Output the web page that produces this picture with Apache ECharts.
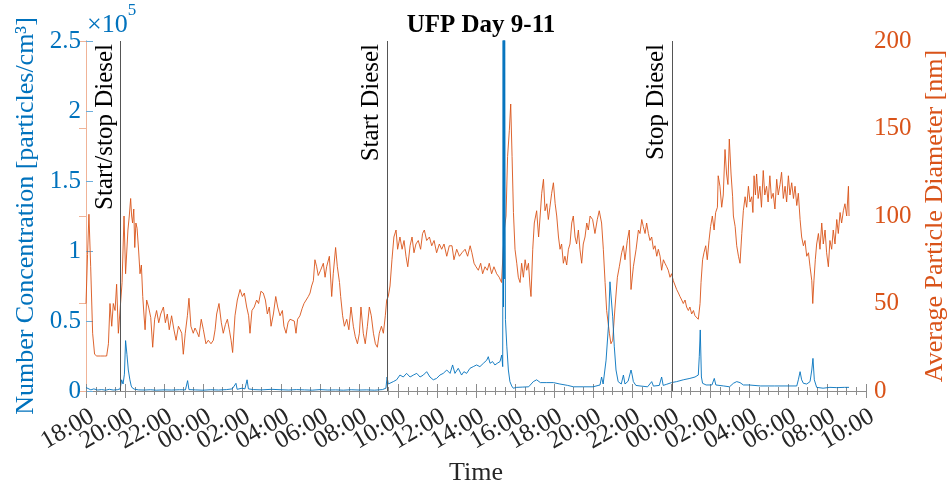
<!DOCTYPE html>
<html>
<head>
<meta charset="utf-8">
<script src="https://cdn.jsdelivr.net/npm/echarts@6/dist/echarts.min.js"></script>
<style>
  html, body { margin: 0; padding: 0; background: #fff; }
  #chart { width: 948px; height: 485px; }
</style>
</head>
<body>
<div id="chart"></div>
<script>
// Time axis: hours elapsed since 18:00 on day 9
const TIME_MIN = 0;
const TIME_MAX = 40;
const TIME_STEP = 2;
const timeTickLabels = [
  '18:00', '20:00', '22:00', '00:00', '02:00', '04:00', '06:00', '08:00', '10:00', '12:00', '14:00',
  '16:00', '18:00', '20:00', '22:00', '00:00', '02:00', '04:00', '06:00', '08:00', '10:00'
];

// Average particle diameter [nm]
const diamHours = [
  0.00, 0.08, 0.15, 0.24, 0.34, 0.44, 0.55, 0.75, 0.95, 1.06, 1.15, 1.23, 1.32, 1.40, 1.49, 1.57, 1.66, 1.74,
  1.85, 1.95, 2.03, 2.15, 2.22, 2.29, 2.34, 2.39, 2.45, 2.50, 2.56, 2.62, 2.70, 2.77, 2.84, 2.91, 2.97, 3.03,
  3.11, 3.21, 3.32, 3.42, 3.52, 3.62, 3.73, 3.83, 3.97, 4.07, 4.17, 4.27, 4.39, 4.51, 4.62, 4.74, 4.83, 4.91,
  4.99, 5.09, 5.20, 5.28, 5.38, 5.50, 5.59, 5.68, 5.79, 5.91, 6.02, 6.15, 6.27, 6.41, 6.53, 6.62, 6.70, 6.82,
  6.94, 7.04, 7.15, 7.25, 7.35, 7.44, 7.52, 7.64, 7.76, 7.90, 8.02, 8.12, 8.24, 8.34, 8.41, 8.51, 8.63, 8.75,
  8.85, 8.97, 9.09, 9.20, 9.30, 9.40, 9.49, 9.61, 9.73, 9.83, 9.95, 10.07, 10.15, 10.26, 10.36, 10.46, 10.56,
  10.68, 10.77, 10.85, 10.97, 11.08, 11.18, 11.28, 11.40, 11.49, 11.57, 11.66, 11.74, 11.83, 11.91, 12.03,
  12.17, 12.26, 12.34, 12.48, 12.60, 12.68, 12.80, 12.89, 13.00, 13.06, 13.16, 13.25, 13.37, 13.48, 13.59,
  13.71, 13.81, 13.92, 14.02, 14.10, 14.22, 14.32, 14.43, 14.53, 14.63, 14.74, 14.84, 14.94, 15.04, 15.15,
  15.25, 15.35, 15.42, 15.50, 15.59, 15.69, 15.79, 15.90, 15.98, 16.10, 16.21, 16.31, 16.41, 16.50, 16.62,
  16.72, 16.82, 16.92, 17.04, 17.16, 17.26, 17.35, 17.47, 17.61, 17.73, 17.85, 17.98, 18.12, 18.24, 18.36,
  18.50, 18.63, 18.77, 18.87, 19.01, 19.15, 19.28, 19.44, 19.57, 19.70, 19.79, 19.90, 20.00, 20.12, 20.24,
  20.34, 20.46, 20.58, 20.68, 20.80, 20.92, 21.06, 21.19, 21.31, 21.40, 21.45, 21.54, 21.62, 21.71, 21.78,
  21.85, 21.92, 22.00, 22.09, 22.17, 22.26, 22.34, 22.43, 22.52, 22.60, 22.69, 22.77, 22.82, 22.91, 22.99,
  23.11, 23.21, 23.29, 23.37, 23.46, 23.54, 23.63, 23.71, 23.79, 23.88, 23.97, 24.06, 24.14, 24.23, 24.31,
  24.39, 24.48, 24.56, 24.65, 24.74, 24.82, 24.91, 24.99, 25.08, 25.16, 25.25, 25.33, 25.42, 25.50, 25.59,
  25.68, 25.76, 25.85, 25.98, 26.10, 26.22, 26.32, 26.44, 26.53, 26.62, 26.70, 26.84, 26.92, 27.01, 27.13,
  27.25, 27.35, 27.47, 27.56, 27.64, 27.76, 27.86, 27.95, 28.07, 28.21, 28.33, 28.41, 28.50, 28.58, 28.67,
  28.75, 28.84, 28.92, 29.01, 29.10, 29.18, 29.27, 29.35, 29.44, 29.52, 29.61, 29.69, 29.78, 29.86, 29.95,
  30.03, 30.12, 30.21, 30.29, 30.38, 30.46, 30.55, 30.63, 30.72, 30.80, 30.89, 30.97, 31.06, 31.15, 31.23,
  31.32, 31.40, 31.49, 31.54, 31.62, 31.69, 31.78, 31.86, 31.95, 32.03, 32.12, 32.21, 32.29, 32.38, 32.42,
  32.51, 32.60, 32.68, 32.77, 32.85, 32.92, 32.99, 33.08, 33.16, 33.20, 33.29, 33.37, 33.46, 33.54, 33.63,
  33.71, 33.80, 33.88, 33.97, 34.05, 34.14, 34.20, 34.26, 34.33, 34.39, 34.47, 34.56, 34.64, 34.73, 34.81,
  34.90, 34.98, 35.07, 35.15, 35.24, 35.33, 35.42, 35.50, 35.59, 35.67, 35.76, 35.85, 35.93, 36.02, 36.10,
  36.19, 36.28, 36.36, 36.45, 36.53, 36.62, 36.70, 36.79, 36.87, 36.96, 37.05, 37.13, 37.22, 37.27, 37.33,
  37.40, 37.47, 37.56, 37.64, 37.73, 37.81, 37.90, 37.98, 38.07, 38.15, 38.24, 38.32, 38.41, 38.50, 38.58,
  38.67, 38.75, 38.84, 38.92, 39.01, 39.10, 39.13
];
const diamNm = [
  50, 78, 101, 71, 33, 21, 20, 20, 20, 20, 27, 50, 37, 50, 46, 61, 33, 34,
  62, 100, 67, 92, 100, 110, 100, 96, 104, 82, 96, 93, 80, 67, 72, 54, 44, 35,
  52, 48, 42, 25, 41, 46, 39, 44, 48, 39, 44, 35, 43, 35, 29, 37, 35, 33,
  21, 33, 43, 53, 37, 33, 36, 34, 31, 41, 35, 27, 29, 27, 29, 35, 44, 50,
  39, 33, 38, 41, 35, 29, 22, 43, 52, 58, 54, 56, 48, 43, 33, 46, 48, 52,
  50, 57, 56, 52, 44, 48, 37, 44, 54, 48, 43, 46, 37, 33, 39, 41, 42,
  40, 33, 41, 43, 47, 50, 51, 54, 56, 60, 63, 75, 71, 66, 69,
  73, 65, 71, 77, 54, 67, 82, 71, 62, 54, 43, 37, 41, 35, 48,
  37, 31, 27, 33, 48, 33, 27, 37, 48, 43, 33, 27, 25, 33, 37,
  33, 43, 52, 54, 60, 75, 88, 92, 81, 88, 81, 86, 77, 71, 83,
  88, 79, 84, 86, 81, 90, 92, 86, 88, 83, 86, 79, 84, 81, 84,
  77, 83, 83, 75, 81, 77, 79, 81, 77, 83, 79, 73, 71, 69, 73,
  67, 71, 69, 73, 67, 71, 67, 65, 62, 63, 92, 100, 134, 149, 164,
  134, 102, 81, 73, 65, 62, 73, 65, 75, 69, 73, 60, 54, 81, 96,
  103, 88, 100, 113, 121, 103, 107, 98, 105, 113, 119, 107, 100, 88, 81,
  84, 73, 77, 72, 81, 84, 96, 100, 88, 84, 92, 81, 73, 84, 88,
  96, 92, 100, 98, 90, 98, 103, 96, 81, 62, 46, 33, 27, 29, 48,
  65, 71, 79, 83, 75, 86, 92, 58, 71, 81, 92, 90, 98, 94, 90,
  96, 90, 86, 88, 81, 83, 77, 81, 77, 69, 75, 73, 71, 69, 65,
  67, 63, 62, 58, 56, 54, 52, 50, 52, 48, 46, 48, 44, 46, 43,
  43, 41, 50, 62, 75, 79, 83, 75, 86, 94, 100, 92, 102, 105, 123,
  117, 105, 112, 138, 124, 118, 144, 124, 111, 100, 94, 83, 77, 73, 90,
  103, 111, 105, 117, 108, 111, 102, 123, 112, 124, 110, 117, 105, 126, 112,
  117, 108, 123, 110, 113, 104, 121, 112, 118, 125, 110, 117, 108, 123, 112,
  119, 110, 117, 106, 113, 98, 88, 83, 86, 77, 79, 71, 63, 50, 63,
  75, 84, 90, 81, 96, 84, 92, 79, 71, 86, 81, 92, 84, 98, 90,
  102, 96, 103, 107, 100, 117, 100
];

// Number concentration [particles/cm^3]
const ufpHours = [
  0.00, 0.10, 0.25, 0.40, 0.60, 0.80, 1.00, 1.20, 1.40, 1.60, 1.75, 1.83, 1.90, 1.97, 2.03, 2.10, 2.17, 2.25,
  2.32, 2.39, 2.50, 2.70, 3.00, 3.30, 3.60, 4.00, 4.40, 4.80, 5.10, 5.21, 5.28, 5.60, 6.00, 6.40, 6.80, 7.20,
  7.50, 7.69, 7.75, 8.00, 8.15, 8.26, 8.33, 8.60, 9.00, 9.50, 10.00, 10.40, 10.80, 11.20, 11.60, 12.00, 12.40,
  12.80, 13.20, 13.60, 14.00, 14.40, 14.80, 15.20, 15.38, 15.44, 15.50, 15.56, 15.76, 15.93, 16.10, 16.27,
  16.44, 16.62, 16.79, 16.96, 17.13, 17.30, 17.47, 17.64, 17.81, 17.98, 18.15, 18.32, 18.50, 18.67, 18.80,
  18.92, 19.09, 19.26, 19.38, 19.52, 19.69, 19.86, 20.03, 20.20, 20.38, 20.55, 20.63, 20.72, 20.85, 20.97,
  21.09, 21.23, 21.32, 21.37, 21.39, 21.41, 21.43, 21.45, 21.47, 21.49, 21.51, 21.58, 21.66, 21.74, 21.83,
  21.91, 22.09, 22.40, 22.70, 22.94, 23.11, 23.30, 23.60, 23.97, 24.30, 24.70, 25.00, 25.50, 26.00, 26.36,
  26.44, 26.52, 26.67, 26.79, 26.87, 27.01, 27.09, 27.18, 27.29, 27.45, 27.56, 27.64, 27.80, 27.95, 28.00,
  28.07, 28.20, 28.41, 28.80, 29.01, 29.10, 29.40, 29.52, 29.60, 29.78, 30.03, 30.29, 30.63, 30.97, 31.23,
  31.40, 31.45, 31.50, 31.56, 31.62, 31.80, 32.10, 32.22, 32.30, 32.70, 33.00, 33.20, 33.37, 33.54, 33.71,
  34.00, 34.60, 35.30, 36.00, 36.45, 36.53, 36.62, 36.70, 36.79, 36.96, 37.13, 37.22, 37.28, 37.35, 37.47,
  37.80, 38.15, 38.50, 38.90, 39.13
];
const ufpCount = [
  2500, 1200, 800, 1500, 700, 1000, 600, 1200, 700, 900, 1500, 8000, 5000, 12000, 36000, 26000, 15000, 8000,
  3500, 2000, 1200, 800, 700, 900, 600, 800, 700, 900, 800, 7400, 1000, 800, 600, 900, 700, 1000,
  1500, 5500, 1200, 2000, 1500, 8000, 1500, 1000, 800, 1200, 900, 700, 1000, 800, 600, 1000, 700,
  800, 600, 900, 700, 800, 600, 1000, 2000, 10000, 5000, 4000, 6700, 8000, 11400, 10000,
  12600, 10000, 11400, 12600, 10000, 11400, 13800, 10000, 8000, 9000, 11400, 12600, 15000, 12600, 18600,
  12600, 16200, 11400, 13800, 12600, 16200, 17400, 18600, 17400, 19800, 22000, 24500, 19800, 21000, 18600,
  19800, 21000, 25700, 17400, 300000, 60000, 300000, 80000, 300000, 150000, 51000, 32000, 15000, 6700, 3600,
  2000, 2600, 2800, 3000, 6700, 8000, 6000, 6000, 6000, 5000, 4000, 3000, 3000, 3000, 4300,
  10000, 5000, 22000, 46000, 78000, 53000, 32000, 15000, 6700, 5000, 11400, 5000, 7000, 15000, 12000,
  6700, 4000, 3600, 3000, 6700, 3500, 4000, 10000, 4000, 4800, 6000, 6700, 8000, 9000, 10000,
  11400, 24500, 43600, 10000, 5500, 4300, 4300, 9000, 4300, 3600, 3000, 5500, 6700, 6000, 4300,
  4300, 3600, 3600, 3600, 3600, 8000, 13800, 8000, 5500, 5000, 6700, 15000, 23300, 8000, 2600,
  2000, 2600, 2400, 2600, 2600
];

// Engine events marked on the time axis
const eventHours = [1.78, 15.44, 30.04];
const eventLabels = ['Start/stop Diesel', 'Start Diesel', 'Stop Diesel'];

// Axis ranges and ticks
const ufpMax = 250000, ufpStep = 50000;
const diamMax = 200, diamStep = 50;

const BLUE = '#0072BD';
const ORANGE = '#D95319';
const FONT = 'Liberation Serif';
const TICK_FONT = 25;
const LABEL_FONT = 26;

const zip = (xs, ys) => xs.map((x, i) => [x, ys[i]]);

const chart = echarts.init(document.getElementById('chart'), null, { renderer: 'canvas' });

// Numeric time axes (bottom carries the data, top mirrors the ticks)
const xCommon = {
  type: 'value',
  min: TIME_MIN,
  max: TIME_MAX,
  interval: TIME_STEP,
  splitLine: { show: false },
  axisLabel: { show: false },
  axisLine: { show: true, lineStyle: { color: '#8c8c8c', width: 1 } },
  axisTick: { show: true, inside: true, length: 7, lineStyle: { color: '#8c8c8c' } },
  minorTick: { show: true, splitNumber: 4, length: 4, lineStyle: { color: '#8c8c8c' } },
};

chart.setOption({
  animation: false,
  backgroundColor: '#ffffff',
  textStyle: { fontFamily: FONT },
  title: {
    text: 'UFP Day 9-11',
    left: 476,
    textAlign: 'center',
    top: 8,
    textStyle: { fontFamily: FONT, fontSize: 25, fontWeight: 'bold', color: '#000' }
  },
  grid: {
    left: 86, right: 82, top: 41, bottom: 94,
    containLabel: false,
    outerBoundsMode: 'none'
  },
  xAxis: [
    Object.assign({}, xCommon, { position: 'bottom' }),
    Object.assign({}, xCommon, { position: 'top' }),
    {
      // clock-time labels, one per major tick
      type: 'category',
      position: 'bottom',
      data: timeTickLabels,
      boundaryGap: false,
      axisLine: { show: false },
      axisTick: { show: false },
      splitLine: { show: false },
      axisLabel: {
        show: true, interval: 0, rotate: 30, margin: 13,
        align: 'right', verticalAlign: 'top',
        fontFamily: FONT, fontSize: TICK_FONT, color: '#262626'
      },
      name: 'Time',
      nameLocation: 'middle',
      nameGap: 66,
      nameTextStyle: { fontFamily: FONT, fontSize: LABEL_FONT, color: '#262626' }
    }
  ],
  yAxis: [
    {
      type: 'value', position: 'left',
      min: 0, max: ufpMax, interval: ufpStep,
      splitLine: { show: false },
      axisLine: { show: true, lineStyle: { color: '#6aaddc', width: 1 } },
      axisTick: { show: true, inside: true, length: 7, lineStyle: { color: '#6aaddc' } },
      axisLabel: {
        margin: 5, fontFamily: FONT, fontSize: TICK_FONT, color: BLUE,
        showMinLabel: true, showMaxLabel: true,
        formatter: v => String(v / 100000)
      },
      name: 'Number Concentration [particles/cm³]',
      nameLocation: 'middle',
      nameGap: 44,
      nameRotate: 90,
      nameTextStyle: { fontFamily: FONT, fontSize: LABEL_FONT, color: BLUE }
    },
    {
      type: 'value', position: 'right',
      min: 0, max: diamMax, interval: diamStep,
      splitLine: { show: false },
      axisLine: { show: true, lineStyle: { color: '#f0b397', width: 1 } },
      axisTick: { show: true, inside: true, length: 7, lineStyle: { color: '#f0b397' } },
      axisLabel: {
        margin: 8, fontFamily: FONT, fontSize: TICK_FONT, color: ORANGE,
        showMinLabel: true, showMaxLabel: true
      },
      name: 'Average Particle Diameter [nm]',
      nameLocation: 'middle',
      nameGap: 52,
      nameRotate: 90,
      nameTextStyle: { fontFamily: FONT, fontSize: LABEL_FONT, color: ORANGE }
    }
  ],
  graphic: [
    {
      type: 'text', left: 87, top: 2,
      style: {
        text: '{b|×10}{s|5}',
        rich: {
          b: { fontFamily: FONT, fontSize: 26, fill: BLUE, padding: [10, 0, 0, 0] },
          s: { fontFamily: FONT, fontSize: 17, fill: BLUE, verticalAlign: 'top', padding: [0, 0, 14, 0] }
        }
      }
    }
  ],
  series: [
    {
      name: 'Average Particle Diameter',
      type: 'line',
      xAxisIndex: 0, yAxisIndex: 1,
      data: zip(diamHours, diamNm),
      showSymbol: false, symbol: 'none',
      lineStyle: { color: ORANGE, width: 0.9 },
      clip: true, z: 2
    },
    {
      name: 'Number Concentration',
      type: 'line',
      xAxisIndex: 0, yAxisIndex: 0,
      data: zip(ufpHours, ufpCount),
      showSymbol: false, symbol: 'none',
      lineStyle: { color: BLUE, width: 0.9 },
      clip: true, z: 3,
      markLine: {
        silent: true,
        symbol: ['none', 'none'],
        lineStyle: { color: '#555555', width: 1, type: 'solid' },
        label: {
          show: true, position: 'insideEndTop', distance: 3,
          fontFamily: FONT, fontSize: 25, color: '#000'
        },
        data: eventHours.map((h, i) => ({
          xAxis: h,
          label: { formatter: eventLabels[i] }
        }))
      }
    }
  ]
});
</script>
</body>
</html>
